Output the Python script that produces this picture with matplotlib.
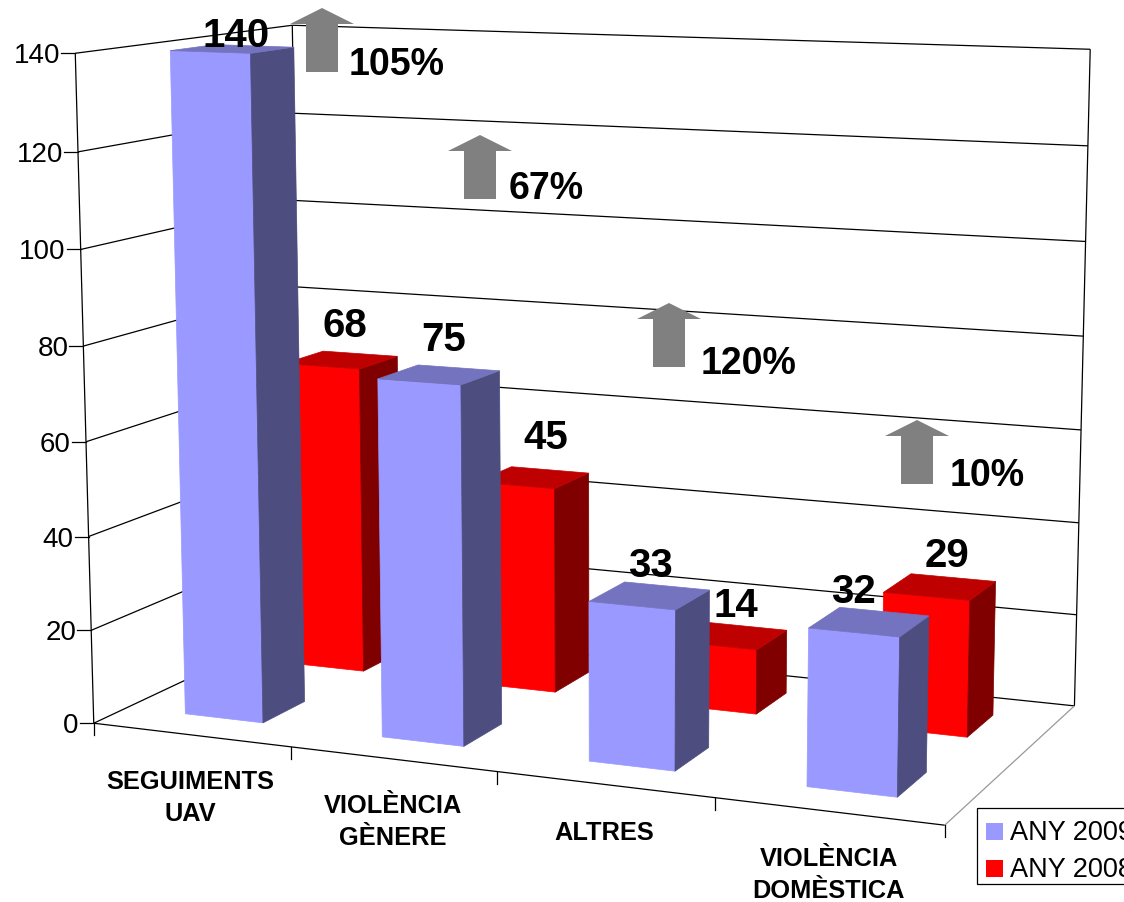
import numpy as np
import matplotlib
matplotlib.use('Agg')
import matplotlib.pyplot as plt

plt.rcParams['font.family'] = ['Liberation Sans', 'DejaVu Sans']

categories = ['SEGUIMENTS\nUAV', 'VIOLÈNCIA\nGÈNERE', 'ALTRES', 'VIOLÈNCIA\nDOMÈSTICA']
any_2009 = [140, 75, 33, 32]
any_2008 = [68, 45, 14, 29]
increase = ['105%', '67%', '120%', '10%']
y_ticks = [0, 20, 40, 60, 80, 100, 120, 140]

# where the corners of the 3d box fall on the picture: (category, depth, value, x px, y px)
frame = [(0, 0, 0, 93, 722), (0, 0, 140, 76, 53), (0, 0, 20, 91, 629), (0, 0, 120, 78, 153),
         (0, 1, 140, 291.7, 26), (0, 1, 120, 293, 113), (0, 1, 100, 295, 199.5), (0, 1, 80, 296.5, 286),
         (4, 1, 140, 1090.7, 50), (4, 1, 120, 1088.5, 146), (4, 1, 100, 1085.5, 241),
         (4, 1, 80, 1083.5, 336.5), (4, 1, 60, 1081, 430), (4, 1, 40, 1078.5, 522),
         (4, 1, 20, 1076, 613), (4, 1, 0, 1074, 706), (4, 0, 0, 945, 827), (0, 1, 0, 304, 628)]

rows = []
for u, d, v, x, y in frame:
    v = v / 140
    rows.append([u, d, v, 1, 0, 0, 0, 0, -x*u, -x*d, -x*v, -x])
    rows.append([0, 0, 0, 0, u, d, v, 1, -y*u, -y*d, -y*v, -y])
P = np.linalg.svd(np.array(rows, float))[2][-1].reshape(3, 4)


def proj(u, d, v):
    q = P @ np.array([u, d, v / 140, 1])
    return q[0] / q[2], q[1] / q[2]


def line(a, b, color='black', lw=0.9):
    pa, pb = proj(*a), proj(*b)
    ax.plot([pa[0], pb[0]], [pa[1], pb[1]], color=color, lw=lw, solid_capstyle='butt', zorder=1)


def bar(cat, d0, d1, value, cols):
    u0, u1 = cat + 0.3, cat + 0.7
    front = [(u0, d0, 0), (u1, d0, 0), (u1, d0, value), (u0, d0, value)]
    side = [(u1, d0, 0), (u1, d1, 0), (u1, d1, value), (u1, d0, value)]
    top = [(u0, d0, value), (u1, d0, value), (u1, d1, value), (u0, d1, value)]
    for face, col in zip([front, side, top], cols):
        pts = [proj(*p) for p in face]
        ax.fill([p[0] for p in pts], [p[1] for p in pts], color=col, lw=0.5, zorder=2)


fig = plt.figure(figsize=(11.24, 9.02), dpi=100)
ax = fig.add_axes([0, 0, 1, 1])
ax.set_xlim(0, 1124)
ax.set_ylim(902, 0)
ax.axis('off')

# walls
for v in y_ticks:
    line((0, 0, v), (0, 1, v))
    line((0, 1, v), (4, 1, v))
    x, y = proj(0, 0, v)
    ax.plot([x - 14, x], [y, y], color='black', lw=0.9, zorder=1)
    ax.text(x - 15, y + 3, str(v), ha='right', va='center', fontsize=20)
line((0, 0, 0), (0, 0, 140))
line((0, 1, 0), (0, 1, 140))
line((4, 1, 0), (4, 1, 140))
line((0, 0, 0), (4, 0, 0))
line((4, 0, 0), (4, 1, 0), color='#999999')

for i in range(5):
    x, y = proj(i, 0, 0)
    ax.plot([x, x], [y, y + 12], color='black', lw=0.9, zorder=1)

blue = ['#9999FF', '#4D4D80', '#7373BF']
red = ['#FF0000', '#800000', '#BF0000']
for i in range(4):
    bar(i, 0.65, 0.85, any_2008[i], red)
    bar(i, 0.15, 0.35, any_2009[i], blue)

# category labels, two lines at most
label_centres = [(190, 798), (393, 822), (604, 833), (829, 875)]
for name, (x, y) in zip(categories, label_centres):
    parts = name.split('\n')
    for k, part in enumerate(parts):
        ax.text(x, y + (k - (len(parts) - 1) / 2) * 32, part, ha='center', va='center',
                fontsize=18.3, fontweight='bold')

# value labels sit above the bar tops
offs_2009 = [(4, -13), (5, -35), (1, -30), (-16, -30)]
offs_2008 = [(4, -34), (13, -40), (5, -30), (7, -31)]
for i in range(4):
    x, y = proj(i + 0.5, 0.25, any_2009[i])
    ax.text(x + offs_2009[i][0], y + offs_2009[i][1], str(any_2009[i]), ha='center', va='center',
            fontsize=29, fontweight='bold', zorder=5)
    x, y = proj(i + 0.5, 0.75, any_2008[i])
    ax.text(x + offs_2008[i][0], y + offs_2008[i][1], str(any_2008[i]), ha='center', va='center',
            fontsize=29, fontweight='bold', zorder=5)

# grey arrows and the increase next to each one
arrow_tips = [(322, 8), (480, 135), (669, 303), (917, 420)]
pct_pos = [(349, 65), (509, 189), (701, 364), (950, 476)]
for (tx, ty), (px, py), pct in zip(arrow_tips, pct_pos, increase):
    ax.fill([tx, tx + 32, tx + 16, tx + 16, tx - 16, tx - 16, tx - 32],
            [ty, ty + 16, ty + 16, ty + 64, ty + 64, ty + 16, ty + 16], color='#808080', lw=0, zorder=3)
    ax.text(px, py, pct, ha='left', va='center', fontsize=27, fontweight='bold', zorder=5)

# legend runs off the right edge like the original
ax.add_patch(plt.Rectangle((977, 808), 200, 76, fc='white', ec='black', lw=0.9, clip_on=False, zorder=3))
for y, col, name in [(831, blue[0], 'ANY 2009'), (868, red[0], 'ANY 2008')]:
    ax.add_patch(plt.Rectangle((986, y - 8.5), 17, 17, fc=col, ec='none', zorder=4))
    ax.text(1010, y + 2, name, ha='left', va='center', fontsize=19.5, zorder=5)

fig.savefig('out.png', dpi=100)
